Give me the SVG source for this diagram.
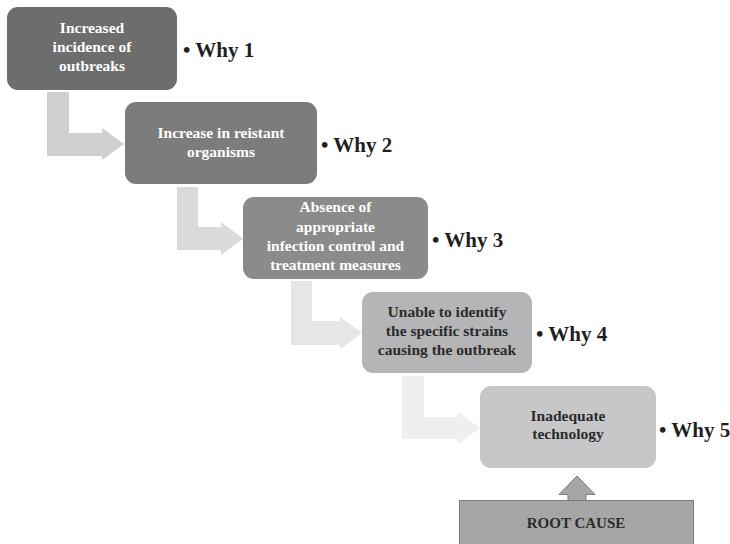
<svg xmlns="http://www.w3.org/2000/svg" width="730" height="544" viewBox="0 0 730 544">
  <style>
    .box { stroke: none; }
    .lbl { font-family: "Liberation Serif", "DejaVu Serif", serif; font-weight: bold; font-size: 15.5px; text-anchor: middle; }
    .light { fill: #ffffff; }
    .dark { fill: #2b2b2b; }
    .why { font-family: "Liberation Serif", "DejaVu Serif", serif; font-weight: bold; font-size: 21px; fill: #231f20; }
  </style>
  <rect width="730" height="544" fill="#ffffff"/>

  <!-- bent arrows between levels -->
  <g id="connectors">
    <path d="M47,92 H69 V133 H102 V128 L124,144 L102,160 V156 H47 Z" fill="#cfcfd0"/>
    <path d="M177,187 H198 V227 H221 V222 L243,238.5 L221,255 V250 H177 Z" fill="#dadadb"/>
    <path d="M291,281 H312 V321 H340 V317 L362,333 L340,349 V345 H291 Z" fill="#e6e6e7"/>
    <path d="M402,376 H424 V417 H458 V412 L480,428 L458,444 V439 H402 Z" fill="#efefef"/>
    <path d="M568,500 V494.5 H559 L577,476 L595,494.5 H586 V500" fill="#a6a6a6" stroke="#7c7c7c" stroke-width="1"/>
  </g>

  <g id="why1">
    <rect class="box" x="7" y="7" width="170" height="83" rx="11" fill="#6d6d6e"/>
    <text class="lbl light" x="92"><tspan x="92" y="33">Increased</tspan><tspan x="92" y="52">incidence of</tspan><tspan x="92" y="71">outbreaks</tspan></text>
    <text class="why" x="183" y="57">• Why 1</text>
  </g>

  <g id="why2">
    <rect class="box" x="125" y="102" width="192" height="82" rx="11" fill="#7c7c7d"/>
    <text class="lbl light"><tspan x="221" y="138">Increase in reistant</tspan><tspan x="221" y="157">organisms</tspan></text>
    <text class="why" x="321" y="152">• Why 2</text>
  </g>

  <g id="why3">
    <rect class="box" x="243" y="197" width="185" height="82" rx="11" fill="#8b8b8c"/>
    <text class="lbl light"><tspan x="335.5" y="212">Absence of</tspan><tspan x="335.5" y="231.5">appropriate</tspan><tspan x="335.5" y="251">infection control and</tspan><tspan x="335.5" y="270">treatment measures</tspan></text>
    <text class="why" x="432" y="247">• Why 3</text>
  </g>

  <g id="why4">
    <rect class="box" x="362" y="292" width="170" height="81" rx="11" fill="#b5b5b7"/>
    <text class="lbl dark"><tspan x="447" y="317">Unable to identify</tspan><tspan x="447" y="336">the specific strains</tspan><tspan x="447" y="355">causing the outbreak</tspan></text>
    <text class="why" x="536" y="341">• Why 4</text>
  </g>

  <g id="why5">
    <rect class="box" x="480" y="386" width="176" height="82" rx="11" fill="#c7c7c9"/>
    <text class="lbl dark"><tspan x="568" y="421">Inadequate</tspan><tspan x="568" y="439">technology</tspan></text>
    <text class="why" x="659" y="437">• Why 5</text>
  </g>

  <g id="root-cause">
    <rect x="459.5" y="500.5" width="234" height="50" fill="#a6a6a6" stroke="#7c7c7c" stroke-width="1"/>
    <text class="lbl dark" x="576" y="528" style="font-size:15px">ROOT CAUSE</text>
  </g>
</svg>
